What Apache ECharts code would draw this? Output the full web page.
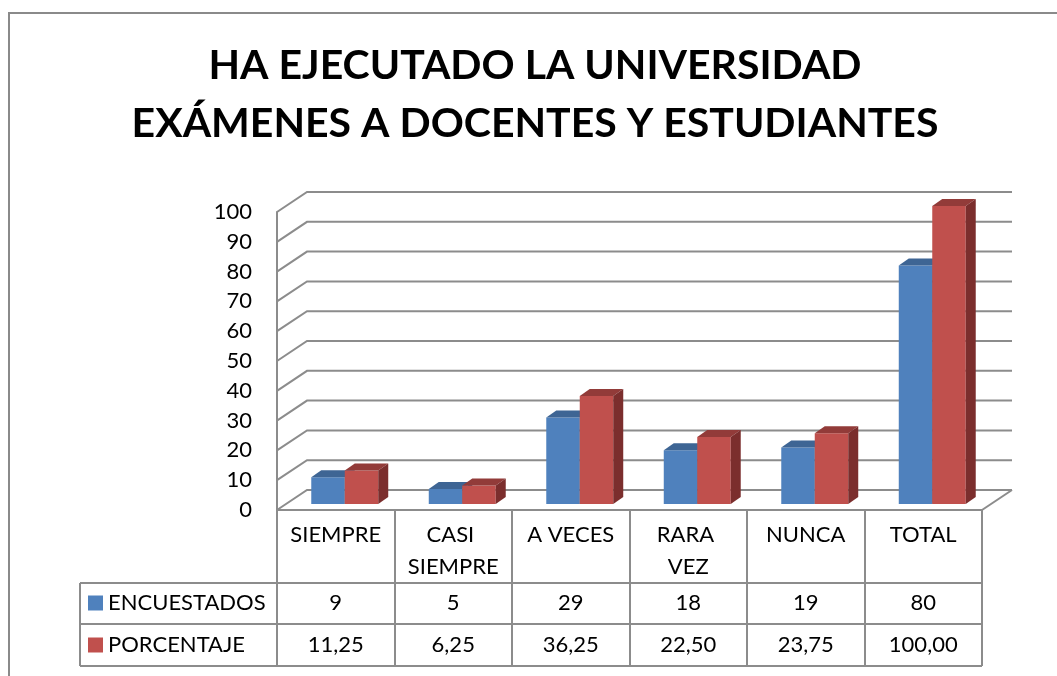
<!DOCTYPE html>
<html>
<head>
<meta charset="utf-8">
<script src="https://cdn.jsdelivr.net/npm/echarts@6/dist/echarts.min.js"></script>
<style>
  html, body { margin: 0; padding: 0; background: #fff; }
  #main { width: 1057px; height: 676px; }
</style>
</head>
<body>
<div id="main"></div>
<script>
const categories = ['SIEMPRE', 'CASI SIEMPRE', 'A VECES', 'RARA VEZ', 'NUNCA', 'TOTAL'];
const encuestados = [9, 5, 29, 18, 19, 80];
const porcentaje = [11.25, 6.25, 36.25, 22.50, 23.75, 100.00];
const yTicks = [0, 10, 20, 30, 40, 50, 60, 70, 80, 90, 100];

const FONT = 'Lato, Carlito, "Liberation Sans", sans-serif';
const GRAY = '#8c8c8c';

// depth offsets for the fake 3d walls and bars
const WALL_DX = 30, WALL_DY = -20;
const BAR_DX = 9, BAR_DY = -6;
const SIDE_DX = 10, SIDE_DY = -7;

function bar3d(idx, front, top, side) {
    return function (params, api) {
        let c = api.value(0);
        let base = api.coord([c, 0]);
        let tip = api.coord([c, api.value(1)]);
        let band = api.size([1, 0])[0];
        let bw = band * 0.285;
        let x0 = base[0] - bw + idx * bw + BAR_DX;
        let x1 = x0 + bw;
        let y0 = base[1] + BAR_DY;
        let y1 = tip[1] + BAR_DY;
        return {
            type: 'group',
            children: [
                { type: 'polygon', shape: { points: [[x0, y0], [x1, y0], [x1, y1], [x0, y1]] }, style: { fill: front } },
                { type: 'polygon', shape: { points: [[x0, y1], [x1, y1], [x1 + SIDE_DX, y1 + SIDE_DY], [x0 + SIDE_DX, y1 + SIDE_DY]] }, style: { fill: top } },
                { type: 'polygon', shape: { points: [[x1, y0], [x1 + SIDE_DX, y0 + SIDE_DY], [x1 + SIDE_DX, y1 + SIDE_DY], [x1, y1]] }, style: { fill: side } }
            ]
        };
    };
}

function wall(params, api) {
    let cs = params.coordSys;
    let y = api.coord([0, api.value(1)])[1];
    let left = cs.x, right = cs.x + cs.width;
    let children = [{
        type: 'polyline',
        shape: { points: [[left, y], [left + WALL_DX, y + WALL_DY], [right + WALL_DX, y + WALL_DY]] },
        style: { stroke: GRAY, lineWidth: 2, fill: null }
    }];
    if (api.value(1) === 0) {
        children.push({
            type: 'line',
            shape: { x1: right, y1: y, x2: right + WALL_DX, y2: y + WALL_DY },
            style: { stroke: GRAY, lineWidth: 2 }
        });
    }
    return { type: 'group', children: children };
}

let chart = echarts.init(document.getElementById('main'));

chart.setOption({
    backgroundColor: '#fff',
    color: ['#4F81BD', '#C0504D'],
    textStyle: { fontFamily: FONT },
    title: {
        text: 'HA EJECUTADO LA UNIVERSIDAD\nEXÁMENES A DOCENTES Y ESTUDIANTES',
        left: 535,
        textAlign: 'center',
        top: 37,
        padding: 0,
        textStyle: { fontFamily: FONT, fontWeight: 'bold', fontSize: 41, lineHeight: 58, color: '#000' }
    },
    legend: {
        data: ['ENCUESTADOS', 'PORCENTAJE'],
        orient: 'vertical',
        left: 88,
        top: 592,
        padding: 0,
        icon: 'rect',
        itemWidth: 15,
        itemHeight: 15,
        itemGap: 20,
        textStyle: { fontFamily: FONT, fontSize: 22, lineHeight: 22, color: '#000' }
    },
    grid: { left: 277, right: 75, top: 212, bottom: 166 },
    xAxis: [{
        type: 'category',
        data: categories,
        axisLine: { lineStyle: { color: GRAY, width: 2 } },
        axisTick: { show: true, interval: 0, length: 156, lineStyle: { color: GRAY, width: 2 } },
        axisLabel: {
            interval: 0, margin: 9, fontSize: 22, lineHeight: 32, color: '#000',
            fontFamily: FONT, width: 96, overflow: 'break'
        }
    }, {
        type: 'category',
        position: 'bottom',
        offset: 82,
        data: encuestados.map(String),
        axisLine: { show: false },
        axisTick: { show: false },
        axisLabel: { interval: 0, margin: 0, fontSize: 22, lineHeight: 22, color: '#000', fontFamily: FONT }
    }, {
        type: 'category',
        position: 'bottom',
        offset: 124,
        data: porcentaje.map(v => v.toFixed(2).replace('.', ',')),
        axisLine: { show: false },
        axisTick: { show: false },
        axisLabel: { interval: 0, margin: 0, fontSize: 22, lineHeight: 22, color: '#000', fontFamily: FONT }
    }],
    yAxis: {
        type: 'value',
        min: 0,
        max: 100,
        interval: 10,
        axisLine: { show: true, lineStyle: { color: GRAY, width: 2 } },
        axisTick: { show: false },
        splitLine: { show: false },
        axisLabel: { margin: 25, fontSize: 22, color: '#000', fontFamily: FONT }
    },
    graphic: [
        { type: 'rect', shape: { x: 9, y: 13, width: 1100, height: 700 }, style: { fill: null, stroke: '#8a8a8a', lineWidth: 2 }, z: -1 },
        { type: 'line', shape: { x1: 80, y1: 583, x2: 982, y2: 583 }, style: { stroke: GRAY, lineWidth: 2 } },
        { type: 'line', shape: { x1: 80, y1: 624, x2: 982, y2: 624 }, style: { stroke: GRAY, lineWidth: 2 } },
        { type: 'line', shape: { x1: 80, y1: 666, x2: 982, y2: 666 }, style: { stroke: GRAY, lineWidth: 2 } },
        { type: 'line', shape: { x1: 80, y1: 583, x2: 80, y2: 666 }, style: { stroke: GRAY, lineWidth: 2 } }
    ],
    series: [{
        name: 'walls',
        type: 'custom',
        silent: true,
        z: 1,
        renderItem: wall,
        data: yTicks.map(t => [0, t])
    }, {
        name: 'ENCUESTADOS',
        type: 'custom',
        z: 2,
        itemStyle: { color: '#4F81BD' },
        renderItem: bar3d(0, '#4F81BD', '#3E6594', '#345783'),
        data: encuestados.map((v, i) => [i, v])
    }, {
        name: 'PORCENTAJE',
        type: 'custom',
        z: 3,
        itemStyle: { color: '#C0504D' },
        renderItem: bar3d(1, '#C0504D', '#923B39', '#7B2E2D'),
        data: porcentaje.map((v, i) => [i, v])
    }]
});
</script>
</body>
</html>
